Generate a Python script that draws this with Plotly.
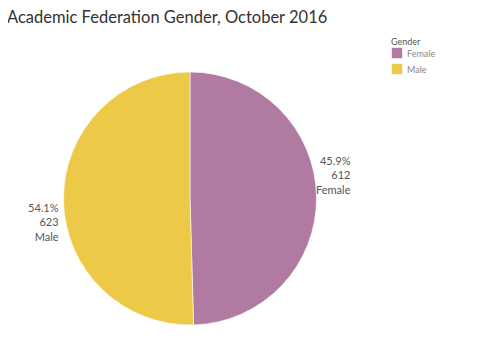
import plotly.graph_objects as go

genders = ["Female", "Male"]
counts = [612, 623]
pct_labels = ["45.9%", "54.1%"]
colors = ["#b07aa1", "#edc948"]

W, H = 500, 363
OFF = 8  # page body margin


def px(x):
    return (x - OFF) / W


def py(y):
    return 1 - (y - OFF) / H


fig = go.Figure()
fig.add_trace(go.Pie(
    labels=genders, values=counts, sort=False, direction="clockwise", rotation=0,
    marker=dict(colors=colors, line=dict(color="white", width=0.6)),
    textinfo="none", hoverinfo="label+value+percent", showlegend=False,
    domain=dict(x=[px(62), px(318)], y=[py(325), py(72)]),
))

# outside labels
pos = [(353, 175), (61, 222)]
for (x, y), g, c, p in zip(pos, genders, counts, pct_labels):
    fig.add_annotation(x=px(x), y=py(y), xref="paper", yref="paper",
                       text=f"{p}<br>{c}<br>{g}", showarrow=False,
                       xanchor="right", yanchor="middle", align="right",
                       font=dict(family="Lato", size=11, color="#555555"))

# title
fig.add_annotation(x=px(5), y=py(17), xref="paper", yref="paper",
                   text="Academic Federation Gender, October 2016", showarrow=False,
                   xanchor="left", yanchor="middle",
                   font=dict(family="Lato", size=16.5, color="#333333"))

# legend
fig.add_annotation(x=px(389), y=py(41), xref="paper", yref="paper", text="Gender",
                   showarrow=False, xanchor="left", yanchor="middle",
                   font=dict(family="Lato", size=9, color="#555555"))
for i, (g, col) in enumerate(zip(genders, colors)):
    yc = 53 + i * 16
    fig.add_shape(type="rect", xref="paper", yref="paper",
                  x0=px(391.5), x1=px(402.5), y0=py(yc - 5.5), y1=py(yc + 5.5),
                  fillcolor=col, line=dict(color="rgba(255,255,255,0.6)", width=1))
    fig.add_annotation(x=px(405), y=py(yc), xref="paper", yref="paper", text=g,
                       showarrow=False, xanchor="left", yanchor="middle",
                       font=dict(family="Lato", size=9, color="#888888"))

fig.update_layout(
    width=W, height=H,
    margin=dict(l=0, r=0, t=0, b=0),
    paper_bgcolor="white", plot_bgcolor="white",
    showlegend=False,
)

fig.write_html("out.html")
